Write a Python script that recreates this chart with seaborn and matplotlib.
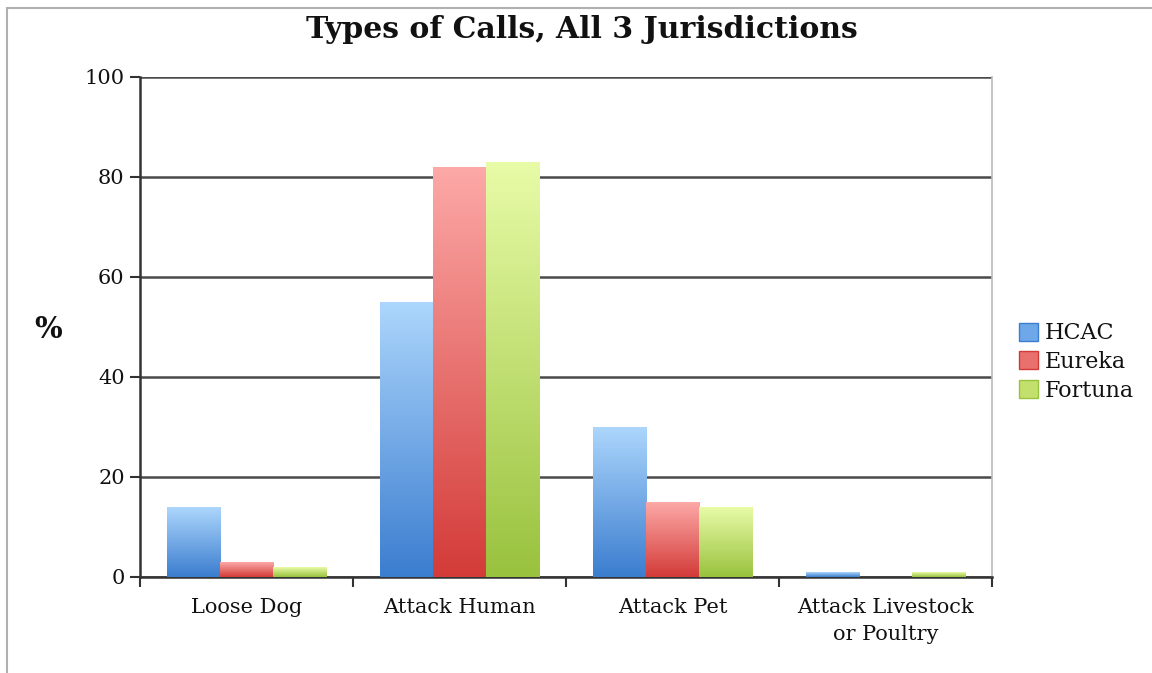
import matplotlib
matplotlib.use("Agg")
import matplotlib.pyplot as plt
import matplotlib.colors as mcolors
from matplotlib.patches import Patch, Rectangle
import numpy as np
import pandas as pd
import seaborn as sns

categories = ["Loose Dog", "Attack Human", "Attack Pet", "Attack Livestock\nor Poultry"]
series = ["HCAC", "Eureka", "Fortuna"]
hcac = [14, 55, 30, 1]
eureka = [3, 82, 15, 0]
fortuna = [2, 83, 14, 1]
yticks = [0, 20, 40, 60, 80, 100]

df = pd.DataFrame({
    "Category": categories * 3,
    "Series": [s for s in series for _ in categories],
    "Value": hcac + eureka + fortuna,
})

top_cols = {"HCAC": "#acd6fc", "Eureka": "#fca9a7", "Fortuna": "#e8fba7"}
bot_cols = {"HCAC": "#3b7dcf", "Eureka": "#d33b38", "Fortuna": "#99c23e"}
mid_cols = {"HCAC": "#6fa8e8", "Eureka": "#e8706d", "Fortuna": "#c3e06e"}

sns.set_style("white")
plt.rcParams['font.family'] = ['DejaVu Serif']
plt.rcParams['text.color'] = '#111111'
plt.rcParams['xtick.color'] = '#111111'
plt.rcParams['ytick.color'] = '#111111'

fig = plt.figure(figsize=(11.52, 6.73), dpi=100)
ax = fig.add_axes([140/1152, 1-577/673, (992-140)/1152, (577-77)/673])

sns.barplot(data=df, x="Category", y="Value", hue="Series", order=categories,
            hue_order=series, palette=mid_cols, width=0.75, ax=ax, legend=False,
            saturation=1)

# gradient fill for each bar
for container, s in zip(ax.containers, series):
    cmap = mcolors.LinearSegmentedColormap.from_list(s, [bot_cols[s], top_cols[s]])
    for bar in container:
        h = bar.get_height()
        if h <= 0:
            bar.set_visible(False)
            continue
        x0 = bar.get_x(); w = bar.get_width()
        grad = np.linspace(0, 1, 256).reshape(-1, 1)
        im = ax.imshow(grad, cmap=cmap, origin="lower", aspect="auto",
                       extent=[x0, x0 + w, 0, h], zorder=3)
        im.set_clip_path(bar)
        bar.set_facecolor("none")
        bar.set_edgecolor("none")
        bar.set_zorder(3)

ax.set_xlim(-0.5, 3.5)
ax.set_ylim(0, 100)
ax.set_yticks(yticks)
ax.set_yticklabels([str(v) for v in yticks], fontsize=15)
ax.yaxis.grid(True, color="#4a4a4a", linewidth=1.8)
ax.set_axisbelow(True)
ax.tick_params(axis="y", which="both", left=True, length=7, width=1.5, color="#333333", pad=4)

# x ticks at category boundaries
ax.set_xticks([-0.5, 0.5, 1.5, 2.5, 3.5])
ax.set_xticklabels([])
ax.tick_params(axis="x", bottom=True, length=7, width=1.5, color="#333333")
ax.set_xticks(range(len(categories)), minor=True)
ax.set_xticklabels(categories, minor=True, fontsize=15, linespacing=1.55)
ax.tick_params(axis="x", which="minor", length=0, pad=15)
ax.set_xlabel("")
ax.set_ylabel("")

for side in ["left", "bottom"]:
    ax.spines[side].set_color("#333333")
    ax.spines[side].set_linewidth(1.8)
ax.spines["right"].set_color("#bbbbbb")
ax.spines["right"].set_linewidth(1.2)
ax.spines["top"].set_visible(False)

fig.text(582/1152, 1-30/673, "Types of Calls, All 3 Jurisdictions", ha="center", va="center",
         fontsize=21.5, fontweight="bold")
fig.text(48/1152, 1-330/673, "%", ha="center", va="center", fontsize=21, fontweight="bold")

handles = [Patch(facecolor=mid_cols[s], edgecolor=bot_cols[s], label=s) for s in series]
fig.legend(handles=handles, loc="center left", bbox_to_anchor=(1010/1152, 1-362/673),
           frameon=False, fontsize=16, handlelength=0.85, handleheight=0.85,
           handletextpad=0.3, labelspacing=0.3, borderaxespad=0)

# outer border of the chart (left and top edges visible)
fig.patches.append(Rectangle((7/1152, -0.1), 1.2, 1.1-8/673, transform=fig.transFigure,
                             fill=False, edgecolor="#b0b0b0", linewidth=1.5))

fig.savefig("out.png", dpi=100)
